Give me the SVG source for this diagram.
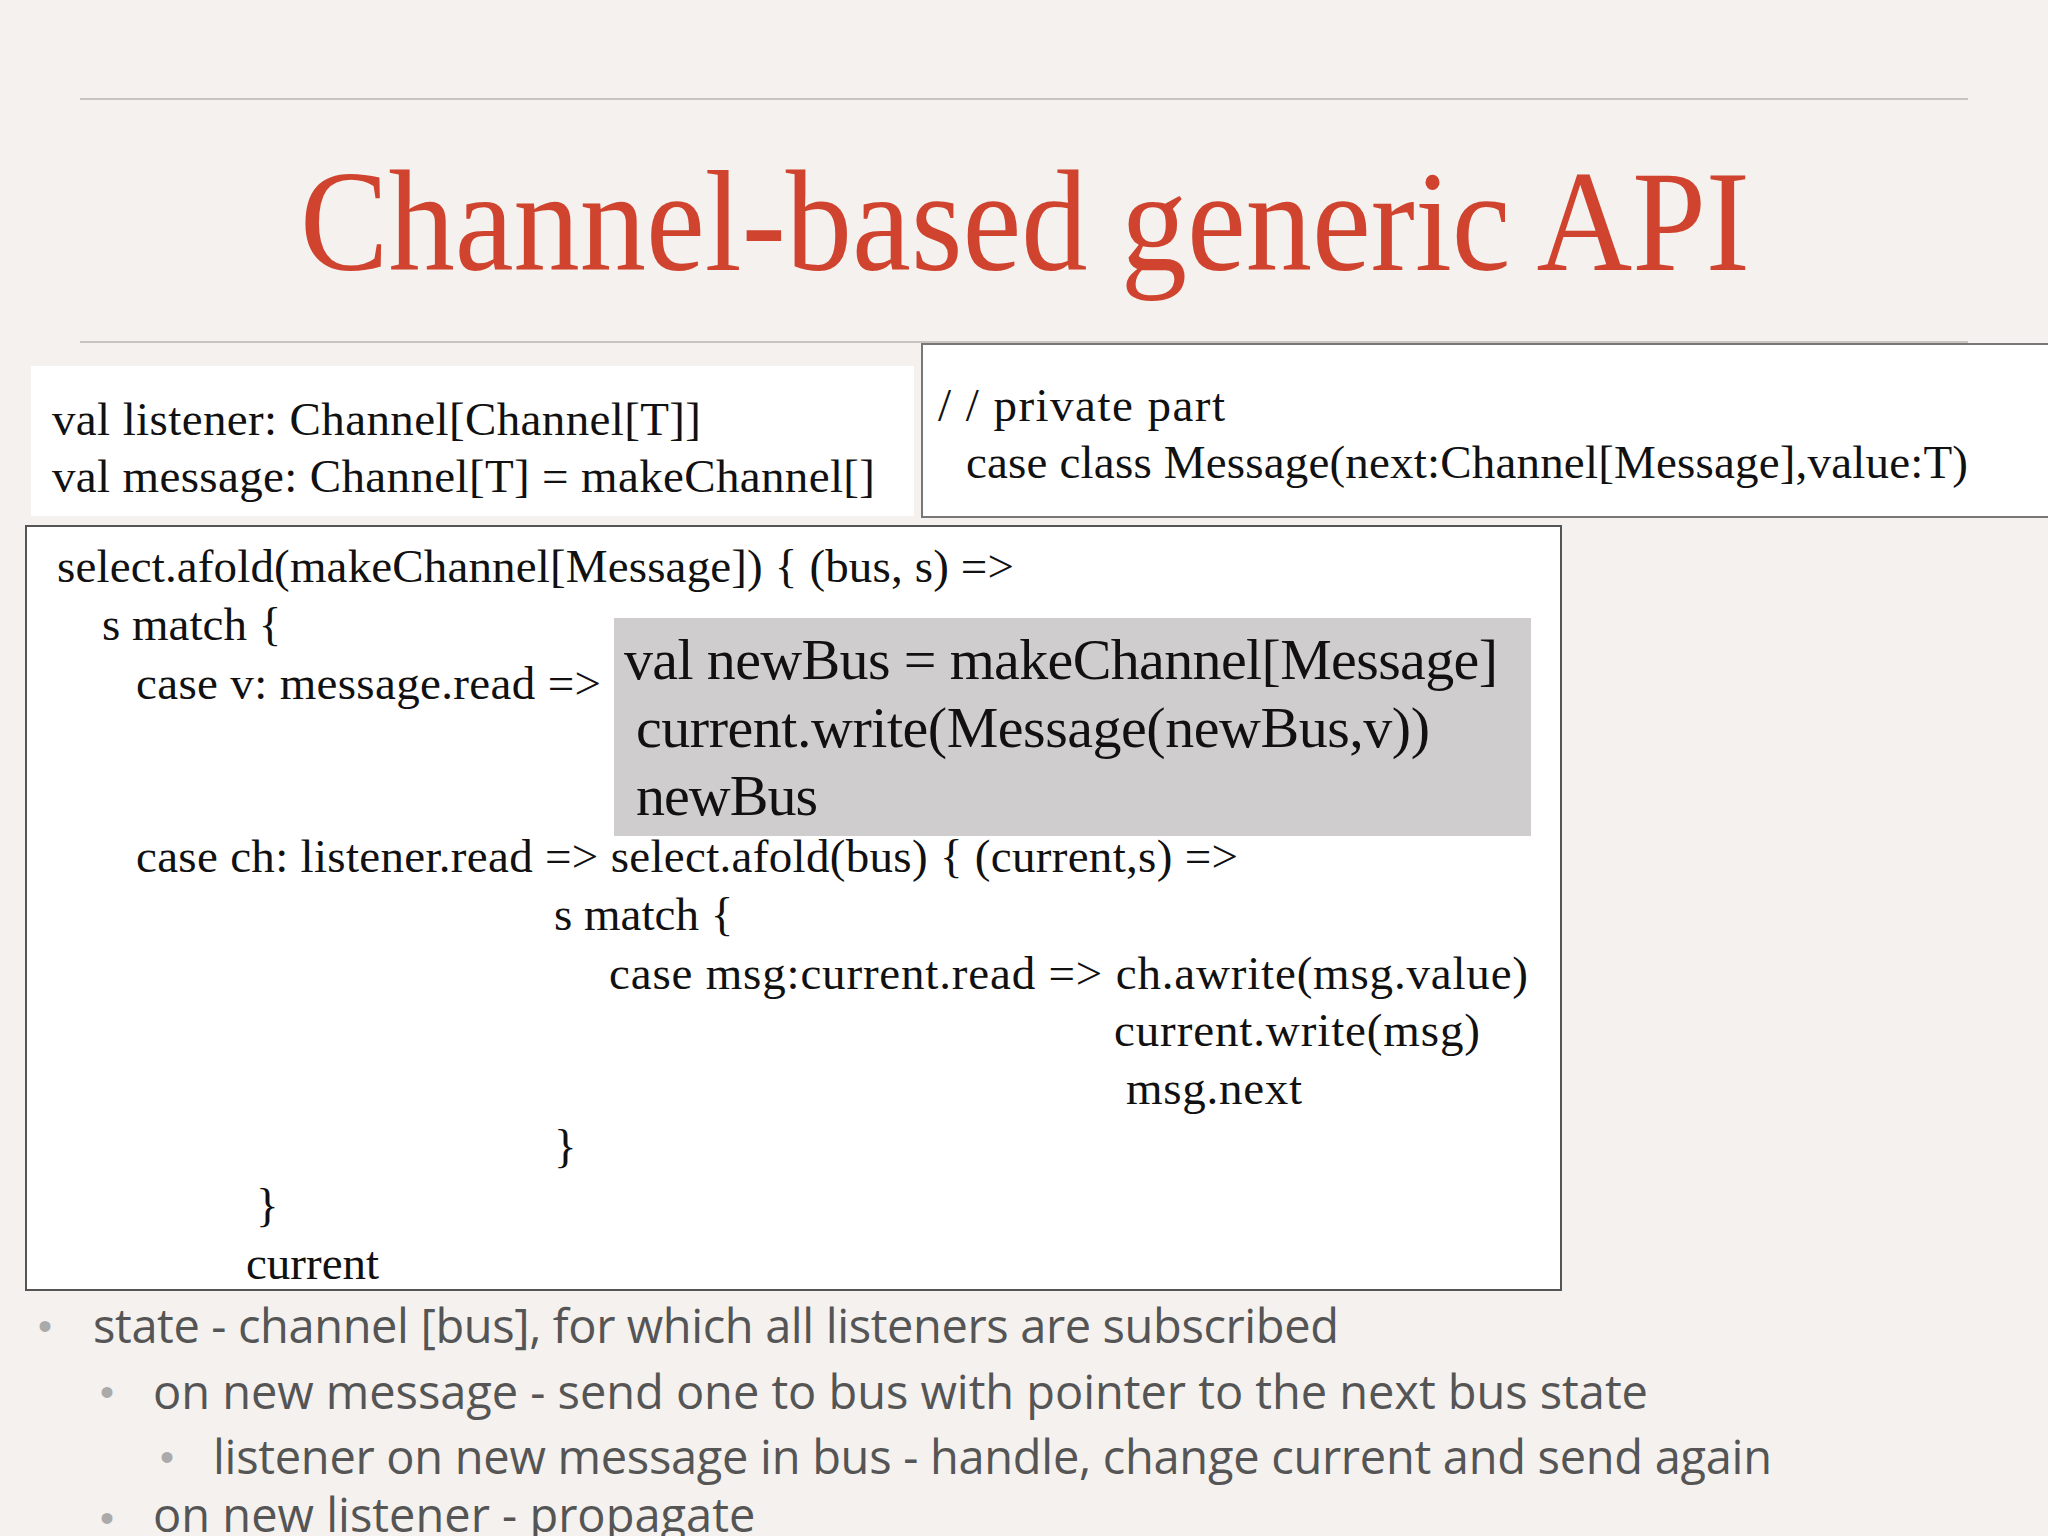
<svg xmlns="http://www.w3.org/2000/svg" width="2048" height="1536" viewBox="0 0 2048 1536">
<style>
.c{font-family:"Liberation Serif","DejaVu Serif",serif;font-size:47px;fill:#111}
.h{font-size:58px}
.b{font-family:"Open Sans","Liberation Sans",sans-serif;font-size:47px;fill:#555}
.d{fill:#aaa;font-family:"Liberation Sans",sans-serif;font-size:40px}
</style>
<rect width="2048" height="1536" fill="#f4f1ee"/>
<line x1="80" y1="99" x2="1968" y2="99" stroke="#c8c4c0" stroke-width="2"/>
<line x1="80" y1="342" x2="1968" y2="342" stroke="#c8c4c0" stroke-width="2"/>
<text x="300" y="270" textLength="1450" lengthAdjust="spacingAndGlyphs" font-family="Liberation Serif,serif" font-size="145" fill="#d0442f">Channel-based generic  API</text>
<g id="decl">
<rect x="31" y="366" width="883" height="150" fill="#fff"/>
<text class="c" x="52" y="435" textLength="649">val listener: Channel[Channel[T]]</text>
<text class="c" x="52" y="492" textLength="823">val message: Channel[T] = makeChannel[]</text>
</g>
<g id="private">
<rect x="922" y="344" width="1130" height="173" fill="#fff" stroke="#777" stroke-width="2"/>
<text class="c" x="938" y="421" textLength="287">/ / private part</text>
<text class="c" x="966" y="478" textLength="1002">case class Message(next:Channel[Message],value:T)</text>
</g>
<g id="code">
<rect x="26" y="526" width="1535" height="764" fill="#fff" stroke="#555" stroke-width="2"/>
<text class="c" x="57" y="582" textLength="957">select.afold(makeChannel[Message]) { (bus, s) =&gt;</text>
<text class="c" x="102" y="640">s match {</text>
<text class="c" x="136" y="699" textLength="465">case v: message.read =&gt; </text>
<text class="c" x="136" y="872" textLength="1102">case ch: listener.read =&gt;  select.afold(bus) { (current,s) =&gt;</text>
<text class="c" x="554" y="930">s match {</text>
<text class="c" x="609" y="989" textLength="919">case msg:current.read =&gt;  ch.awrite(msg.value)</text>
<text class="c" x="1114" y="1046" textLength="366">current.write(msg)</text>
<text class="c" x="1126" y="1104" textLength="176">msg.next</text>
<text class="c" x="554" y="1162">}</text>
<text class="c" x="256" y="1221">}</text>
<text class="c" x="246" y="1279">current</text>
</g>
<g id="highlight">
<rect x="614" y="618" width="917" height="218" fill="#cfcdce"/>
<text class="c h" x="624" y="679" textLength="874">val newBus = makeChannel[Message]</text>
<text class="c h" x="636" y="747" textLength="794">current.write(Message(newBus,v))</text>
<text class="c h" x="636" y="815" textLength="182">newBus</text>
</g>
<g id="bullets">
<text class="d" x="38" y="1340">•</text>
<text class="b" x="93" y="1343" textLength="1246">state - channel [bus], for which all listeners are subscribed</text>
<text class="d" x="100" y="1406">•</text>
<text class="b" x="153" y="1409" textLength="1495">on new message - send one to bus with pointer to the next bus state</text>
<text class="d" x="160" y="1471">•</text>
<text class="b" x="213" y="1474" textLength="1559">listener on new message in bus - handle, change current and send again</text>
<text class="d" x="100" y="1532">•</text>
<text class="b" x="153" y="1532">on new listener - propagate</text>
</g>
</svg>
